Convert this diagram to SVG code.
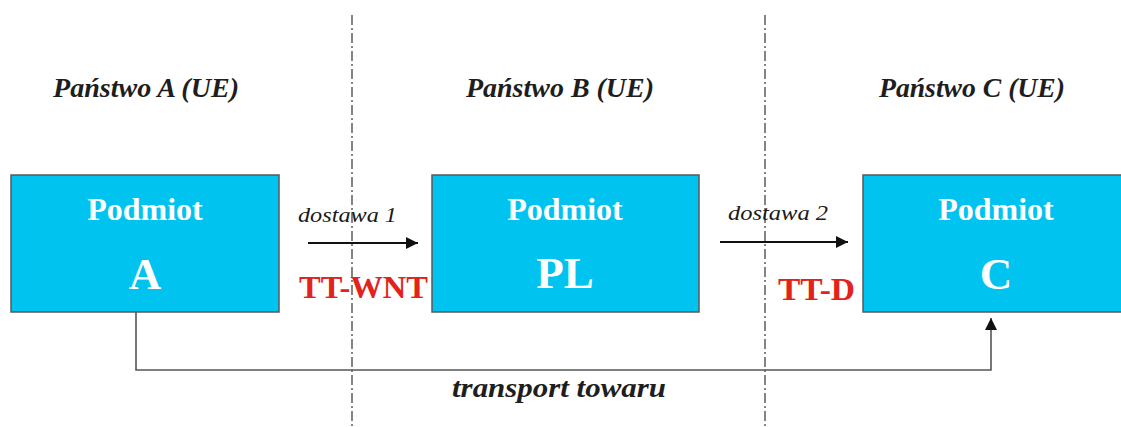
<svg xmlns="http://www.w3.org/2000/svg" width="1121" height="427" viewBox="0 0 1121 427">
<style>
.box{fill:#00c3f0;stroke:#5a5a5a;stroke-width:1.5}
.w1{font-family:"Liberation Serif",serif;font-weight:bold;fill:#fff;font-size:32px;text-anchor:middle}
.w2{font-family:"Liberation Serif",serif;font-weight:bold;fill:#fff;font-size:45px;text-anchor:middle}
.country{font-family:"Liberation Serif",serif;font-style:italic;font-weight:bold;font-size:27px;fill:#1e1e1e;text-anchor:middle}
.lbl{font-family:"Liberation Serif",serif;font-style:italic;font-size:22px;fill:#1a1a1a}
.red{font-family:"Liberation Serif",serif;font-weight:bold;font-size:32px;fill:#e3221c}
.div{stroke:#444;stroke-width:1.3;stroke-dasharray:10 3 2 3;fill:none}
.conn{stroke:#111;stroke-width:1.8;fill:none}
.conn2{stroke:#555;stroke-width:1.6;fill:none}
</style>
<defs>
<marker id="ah2" viewBox="0 0 10 10" refX="10" refY="5" markerWidth="14" markerHeight="12" markerUnits="userSpaceOnUse" orient="auto">
<path d="M0,0 L10,5 L0,10 z" fill="#111"/>
</marker>
</defs>
<rect width="1121" height="427" fill="#fff"/>
<g id="dividers">
<line class="div" x1="352" y1="15" x2="352" y2="427"/>
<line class="div" x1="765" y1="15" x2="765" y2="427"/>
</g>
<g id="labels">
<text class="country" x="146" y="97" textLength="186" lengthAdjust="spacingAndGlyphs">Państwo A (UE)</text>
<text class="country" x="560" y="97" textLength="188" lengthAdjust="spacingAndGlyphs">Państwo B (UE)</text>
<text class="country" x="972" y="97" textLength="186" lengthAdjust="spacingAndGlyphs">Państwo C (UE)</text>
</g>
<g id="nodeA">
<rect class="box" x="11" y="175" width="268" height="137"/>
<text class="w1" x="145" y="220">Podmiot</text>
<text class="w2" x="145" y="289">A</text>
</g>
<g id="nodePL">
<rect class="box" x="432" y="175" width="267" height="137"/>
<text class="w1" x="565" y="220">Podmiot</text>
<text class="w2" x="565" y="288">PL</text>
</g>
<g id="nodeC">
<rect class="box" x="863" y="175" width="270" height="137"/>
<text class="w1" x="996" y="220">Podmiot</text>
<text class="w2" x="996" y="289">C</text>
</g>
<g id="connectors">
<line class="conn" x1="308" y1="243" x2="418" y2="243" marker-end="url(#ah2)"/>
<line class="conn" x1="720" y1="242" x2="848" y2="242" marker-end="url(#ah2)"/>
<polyline class="conn2" points="136,312 136,370 991,370 991,318" marker-end="url(#ah2)"/>
</g>
<g id="edge-labels">
<text class="lbl" x="298" y="222" textLength="99" lengthAdjust="spacingAndGlyphs">dostawa 1</text>
<text class="lbl" x="728" y="220" textLength="100" lengthAdjust="spacingAndGlyphs">dostawa 2</text>
<text class="red" x="299" y="298" textLength="129" lengthAdjust="spacingAndGlyphs">TT-WNT</text>
<text class="red" x="778" y="300" textLength="77" lengthAdjust="spacingAndGlyphs">TT-D</text>
<text class="country" x="559" y="397" font-size="27" textLength="214" lengthAdjust="spacingAndGlyphs">transport towaru</text>
</g>
</svg>
